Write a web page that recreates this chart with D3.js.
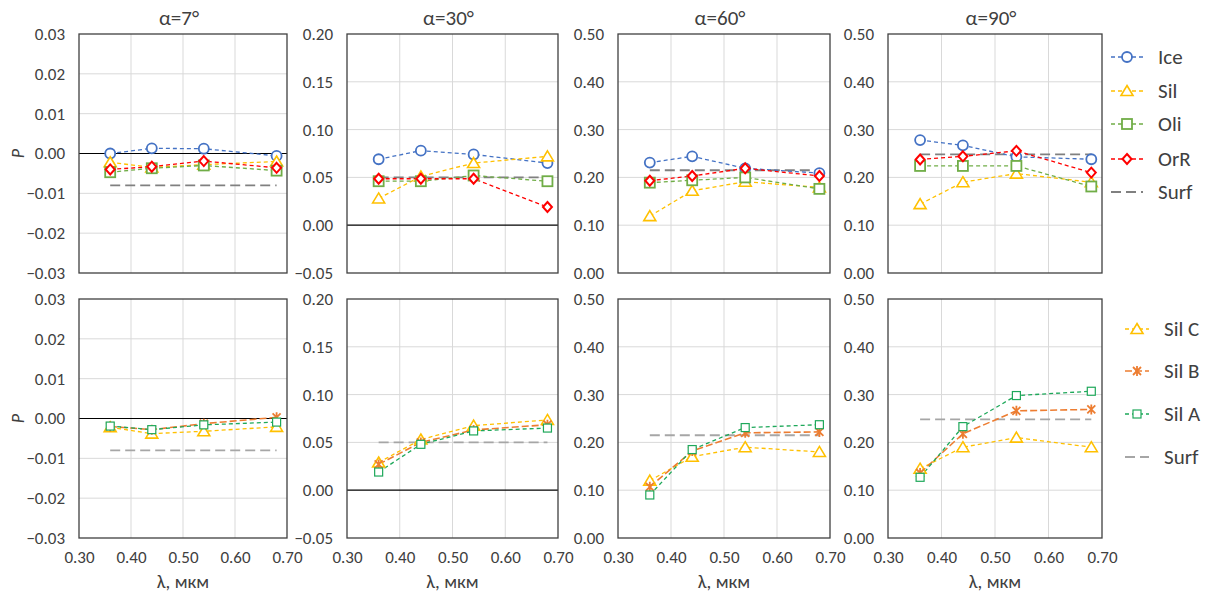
<!DOCTYPE html>
<html>
<head>
<meta charset="utf-8">
<script src="https://cdn.jsdelivr.net/npm/d3@7"></script>
<style>
  body { margin: 0; background: #fff; }
  text { font-family: Carlito, Lato, "Open Sans", sans-serif; fill: #404040; }
</style>
</head>
<body>
<div id="container"></div>
<script>
// wavelengths, mkm
var lambda = [0.36, 0.44, 0.54, 0.68];
var angles = ["α=7°", "α=30°", "α=60°", "α=90°"];
var xTicks = [0.30, 0.40, 0.50, 0.60, 0.70];
var yTicks = [
  [-0.03, -0.02, -0.01, 0.00, 0.01, 0.02, 0.03],
  [-0.05, 0.00, 0.05, 0.10, 0.15, 0.20],
  [0.00, 0.10, 0.20, 0.30, 0.40, 0.50],
  [0.00, 0.10, 0.20, 0.30, 0.40, 0.50]
];

// top row, one row per angle
var ice = [[0.000, 0.0013, 0.0012, -0.0006], [0.069, 0.078, 0.074, 0.065], [0.231, 0.244, 0.219, 0.209], [0.278, 0.267, 0.243, 0.238]];
var sil = [[-0.0022, -0.0035, -0.0028, -0.0020], [0.028, 0.051, 0.065, 0.072], [0.119, 0.172, 0.191, 0.179], [0.144, 0.190, 0.208, 0.190]];
var oli = [[-0.0047, -0.0037, -0.0030, -0.0043], [0.046, 0.046, 0.052, 0.046], [0.189, 0.194, 0.200, 0.176], [0.224, 0.224, 0.224, 0.181]];
var orr = [[-0.0040, -0.0033, -0.0019, -0.0036], [0.0486, 0.0486, 0.0486, 0.019], [0.193, 0.203, 0.219, 0.203], [0.2375, 0.244, 0.2555, 0.210]];
var surf = [-0.008, 0.050, 0.215, 0.248];

// bottom row
var silC = [[-0.0022, -0.0038, -0.0032, -0.0021], [0.029, 0.053, 0.0675, 0.0735], [0.120, 0.170, 0.190, 0.180], [0.145, 0.190, 0.210, 0.190]];
var silB = [[-0.0020, -0.0028, -0.0013, 0.0003], [0.027, 0.050, 0.063, 0.0685], [0.107, 0.182, 0.220, 0.222], [0.136, 0.218, 0.266, 0.269]];
var silA = [[-0.0019, -0.0028, -0.0016, -0.0009], [0.019, 0.048, 0.062, 0.065], [0.090, 0.185, 0.231, 0.237], [0.127, 0.233, 0.298, 0.307]];
var surfB = [-0.008, 0.050, 0.215, 0.248];

// layout
var colX = [79, 347, 618, 888],
    colW = [208, 211, 212, 214],
    rowY = [34, 299],
    plotH = 239;

var starPath = function(s) {
  var r = s / 2;
  return "M" + (-r) + "," + (-r) + "L" + r + "," + r +
         "M" + (-r) + "," + r + "L" + r + "," + (-r) +
         "M0," + (-r - 1) + "L0," + (r + 1);
};

var topSeries = [
  {name: "Ice", vals: ice, color: "#4472C4", marker: "circle", dash: "4,3", lw: 1.3},
  {name: "Sil", vals: sil, color: "#FFC000", marker: "triangle", dash: "4,3", lw: 1.3},
  {name: "Oli", vals: oli, color: "#70AD47", marker: "square", dash: "4,3", lw: 1.3},
  {name: "OrR", vals: orr, color: "#FF0000", marker: "diamond", dash: "4,3", lw: 1.3}
];
var botSeries = [
  {name: "Sil  C", vals: silC, color: "#FFC000", marker: "triangle", dash: "4,3", lw: 1.3},
  {name: "Sil  B", vals: silB, color: "#ED7D31", marker: "star", dash: "7,3", lw: 1.6},
  {name: "Sil  A", vals: silA, color: "#1EA85A", marker: "smallsquare", dash: "4,3", lw: 1.3}
];

var svg = d3.select("#container").append("svg")
  .attr("width", 1214)
  .attr("height", 595);
svg.append("rect").attr("width", 1214).attr("height", 595).attr("fill", "#fff");

function drawMarker(g, type, color, x, y) {
  if (type == "circle") {
    g.append("circle").attr("cx", x).attr("cy", y).attr("r", 5)
      .attr("fill", "#fff").attr("stroke", color).attr("stroke-width", 1.8);
  } else if (type == "triangle") {
    g.append("path").attr("d", "M0,-5.5L6,4.5L-6,4.5Z")
      .attr("transform", "translate(" + x + "," + y + ")")
      .attr("fill", "#fff").attr("stroke", color).attr("stroke-width", 1.6);
  } else if (type == "square") {
    g.append("rect").attr("x", x - 5).attr("y", y - 5).attr("width", 10).attr("height", 10)
      .attr("fill", "#fff").attr("stroke", color).attr("stroke-width", 1.8);
  } else if (type == "smallsquare") {
    g.append("rect").attr("x", x - 4).attr("y", y - 4).attr("width", 8).attr("height", 8)
      .attr("fill", "#fff").attr("stroke", color).attr("stroke-width", 1.2);
  } else if (type == "diamond") {
    g.append("path").attr("d", "M0,-5L4.5,0L0,5L-4.5,0Z")
      .attr("transform", "translate(" + x + "," + y + ")")
      .attr("fill", "#fff").attr("stroke", color).attr("stroke-width", 2);
  } else if (type == "star") {
    g.append("path").attr("d", starPath(8))
      .attr("transform", "translate(" + x + "," + y + ")")
      .attr("fill", "none").attr("stroke", color).attr("stroke-width", 1.8);
  }
}

function panel(row, col) {
  var w = colW[col], h = plotH;
  var g = svg.append("g").attr("transform", "translate(" + colX[col] + "," + rowY[row] + ")");

  var x = d3.scaleLinear().domain([0.30, 0.70]).range([0, w]);
  var ticks = yTicks[col];
  var y = d3.scaleLinear().domain([ticks[0], ticks[ticks.length - 1]]).range([h, 0]);

  // grid
  g.append("g").selectAll("line").data(xTicks.slice(1, -1)).enter().append("line")
    .attr("x1", function(d) { return x(d); }).attr("x2", function(d) { return x(d); })
    .attr("y1", 0).attr("y2", h)
    .attr("stroke", "#d9d9d9").attr("stroke-width", 1);
  g.append("g").selectAll("line").data(ticks.slice(1, -1)).enter().append("line")
    .attr("x1", 0).attr("x2", w)
    .attr("y1", function(d) { return y(d); }).attr("y2", function(d) { return y(d); })
    .attr("stroke", function(d) { return d === 0 ? "#000" : "#d9d9d9"; })
    .attr("stroke-width", function(d) { return d === 0 ? 1.2 : 1; });

  // y axis
  var yAxis = g.append("g")
    .call(d3.axisLeft(y).tickValues(ticks).tickFormat(d3.format(".2f")).tickSize(0).tickPadding(14));
  yAxis.select(".domain").remove();
  yAxis.selectAll("text").style("font-size", "17px").attr("fill", "#404040")
    .style("font-family", "Carlito, Lato, sans-serif");

  // x axis (bottom row only)
  if (row == 1) {
    var xAxis = g.append("g").attr("transform", "translate(0," + h + ")")
      .call(d3.axisBottom(x).tickValues(xTicks).tickFormat(d3.format(".2f")).tickSize(0).tickPadding(13));
    xAxis.select(".domain").remove();
    xAxis.selectAll("text").style("font-size", "17px").attr("fill", "#404040")
      .style("font-family", "Carlito, Lato, sans-serif");
    g.append("text").attr("x", w / 2).attr("y", h + 50)
      .attr("text-anchor", "middle").style("font-size", "19px")
      .text("λ, мкм");
  } else {
    g.append("text").attr("x", w / 2 - 4).attr("y", -9)
      .attr("text-anchor", "middle").style("font-size", "21px").attr("fill", "#262626")
      .text(angles[col]);
  }

  if (col == 0) {
    g.append("text").attr("transform", "translate(-55," + (h / 2) + ") rotate(-90)")
      .attr("text-anchor", "middle").style("font-size", "18px").style("font-style", "italic")
      .text("P");
  }

  // surface level
  var sv = row == 0 ? surf[col] : surfB[col];
  g.append("line")
    .attr("x1", x(lambda[0])).attr("x2", x(lambda[lambda.length - 1]))
    .attr("y1", y(sv)).attr("y2", y(sv))
    .attr("stroke", row == 0 ? "#808080" : "#a6a6a6").attr("stroke-width", 1.8)
    .attr("stroke-dasharray", "10,5");

  var series = row == 0 ? topSeries : botSeries;
  var line = d3.line().x(function(d, i) { return x(lambda[i]); }).y(function(d) { return y(d); });
  series.forEach(function(s) {
    g.append("path").datum(s.vals[col])
      .attr("d", line).attr("fill", "none")
      .attr("stroke", s.color).attr("stroke-width", s.lw)
      .attr("stroke-dasharray", s.dash);
  });
  series.forEach(function(s) {
    s.vals[col].forEach(function(v, i) {
      drawMarker(g, s.marker, s.color, x(lambda[i]), y(v));
    });
  });

  // frame
  g.append("rect").attr("width", w).attr("height", h)
    .attr("fill", "none").attr("stroke", "#404040").attr("stroke-width", 1.3);
}

for (var r = 0; r < 2; r++) {
  for (var c = 0; c < 4; c++) panel(r, c);
}

// legends
function legend(items, yPos, lx1, lx2, tx) {
  var lg = svg.append("g");
  items.forEach(function(it, i) {
    var yy = yPos[i];
    lg.append("line").attr("x1", lx1).attr("x2", lx2).attr("y1", yy).attr("y2", yy)
      .attr("stroke", it.color).attr("stroke-width", it.lw || 1.3)
      .attr("stroke-dasharray", it.dash);
    if (it.marker) drawMarker(lg, it.marker, it.color, (lx1 + lx2) / 2, yy);
    lg.append("text").attr("x", tx).attr("y", yy).attr("dy", "0.35em")
      .style("font-size", "21px").attr("fill", "#262626").text(it.name);
  });
}

legend(topSeries.concat([{name: "Surf", color: "#808080", dash: "10,5", lw: 1.8}]),
  [57, 91, 124, 159, 192], 1111, 1143, 1158);
legend(botSeries.concat([{name: "Surf", color: "#a6a6a6", dash: "10,5", lw: 1.8}]),
  [329, 371, 414, 457], 1125, 1149, 1164);
</script>
</body>
</html>
